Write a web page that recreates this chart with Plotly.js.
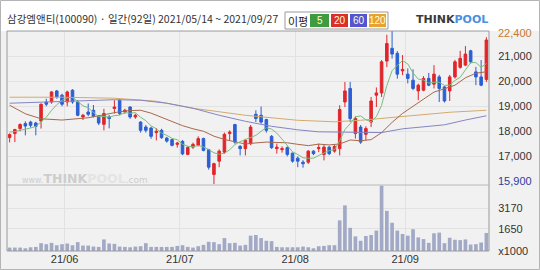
<!DOCTYPE html>
<html><head><meta charset="utf-8">
<script src="https://cdn.plot.ly/plotly-3.0.1.min.js"></script>
<style>html,body{margin:0;padding:0;background:#fff;}#chart{width:540px;height:270px;}</style>
</head><body><div id="chart"></div>
<script>
// ---- data ----
const dates = [
'2021-05-14','2021-05-17','2021-05-18','2021-05-20','2021-05-21','2021-05-24','2021-05-25','2021-05-26','2021-05-27','2021-05-28','2021-05-31',
'2021-06-01','2021-06-02','2021-06-03','2021-06-04','2021-06-07','2021-06-08','2021-06-09','2021-06-10','2021-06-11','2021-06-14','2021-06-15','2021-06-16','2021-06-17','2021-06-18','2021-06-21','2021-06-22','2021-06-23','2021-06-24','2021-06-25','2021-06-28','2021-06-29','2021-06-30',
'2021-07-01','2021-07-02','2021-07-05','2021-07-06','2021-07-07','2021-07-08','2021-07-09','2021-07-12','2021-07-13','2021-07-14','2021-07-15','2021-07-16','2021-07-19','2021-07-20','2021-07-21','2021-07-22','2021-07-23','2021-07-26','2021-07-27','2021-07-28','2021-07-29','2021-07-30',
'2021-08-02','2021-08-03','2021-08-04','2021-08-05','2021-08-06','2021-08-09','2021-08-10','2021-08-11','2021-08-12','2021-08-13','2021-08-17','2021-08-18','2021-08-19','2021-08-20','2021-08-23','2021-08-24','2021-08-25','2021-08-26','2021-08-27','2021-08-30','2021-08-31',
'2021-09-01','2021-09-02','2021-09-03','2021-09-06','2021-09-07','2021-09-08','2021-09-09','2021-09-10','2021-09-13','2021-09-14','2021-09-15','2021-09-16','2021-09-17','2021-09-23','2021-09-24','2021-09-27'];

const open  = [17750,17910,18110,18310,18370,18330,18410,19170,19170,19610,19440,19170,19640,19170,18570,18770,18840,18600,18280,18570,18910,19240,18770,18970,18570,18370,18170,18130,17950,18040,17730,17670,17480,17600,17080,17370,17440,17710,17270,16280,16810,17170,17910,18270,17400,17310,17510,18680,18640,18470,17800,17310,17270,17350,17130,16930,16770,16770,17210,17310,17080,17370,17210,17310,19170,19710,17910,18170,17880,18370,19440,19530,20800,21310,21110,20410,20280,20040,19610,19640,20110,19880,20170,19770,19610,20170,20550,20640,21210,20370,20170,20070];
const high  = [17920,18100,18320,18400,18420,18380,19110,19300,19600,19650,19500,19620,19680,19250,18700,19110,19050,18650,18900,18650,19240,19280,18900,19000,18700,18400,18250,18180,18130,18100,17780,17700,17580,17650,17400,17550,17800,17750,17300,16750,17280,17950,18040,18300,17450,17700,18250,18840,18990,18500,17850,17510,17400,17400,17150,17000,16850,17250,17250,17510,17450,17420,17450,19040,19970,19970,18600,18250,18200,19370,19750,20840,21850,22400,21200,21040,20510,20470,19900,20200,20330,20640,20250,19800,20250,20850,21210,21400,21250,20570,20840,21750];
const low   = [17560,17570,18000,17840,18150,17840,18110,19000,19100,19300,19000,19000,19100,18600,18450,18600,18550,18250,18040,18120,18710,18650,18700,18500,18500,17950,17950,17700,17640,17700,17550,17400,17350,17050,17050,17300,17400,17200,16470,15900,16570,17100,17640,17500,17040,17040,17450,18370,18300,17950,17300,17110,17150,17000,16750,16570,16550,16700,17050,17170,16840,17050,17150,17040,18970,18370,17710,17500,17640,18170,18970,19370,20560,20900,20100,20240,19910,19640,19240,19600,19800,19710,19170,19150,19210,20100,20500,20600,20700,19840,19800,19970];
const close = [17870,18070,18270,18210,18240,18200,19080,19080,19570,19370,19080,19570,19170,18640,18640,18680,18600,18330,18710,18510,18970,18710,18840,18570,18640,18040,18040,17800,18000,17750,17610,17440,17530,17100,17360,17480,17710,17240,16570,16710,17210,17880,17970,17570,17310,17640,18170,18510,18370,18040,17350,17370,17310,17080,16810,16810,16710,17210,17110,17350,17370,17110,17400,18870,19610,18510,18510,17570,18110,19210,19530,20770,21500,21080,20280,20470,20110,19710,19840,20110,19840,20280,19710,19210,20170,20770,20910,21080,20770,20170,19840,21640];
const volume = [253,253,253,202,278,303,581,505,606,430,505,556,430,657,404,404,328,303,859,556,530,328,303,278,328,354,581,303,303,303,303,303,379,430,303,253,354,455,682,657,505,960,581,606,404,455,1137,1187,960,758,733,303,278,278,278,278,328,278,202,354,379,430,430,2273,3385,1718,1086,758,1111,1187,1516,4850,2981,2097,1516,1263,1137,1617,1010,884,606,1314,1364,581,985,834,808,859,480,505,632,1339];

// moving averages
const ma5 = [17970,17990,18040,18080,18132,18198,18400,18562,18834,19060,19236,19334,19352,19166,19020,18940,18746,18578,18592,18566,18624,18646,18748,18720,18746,18560,18426,18218,18104,17926,17840,17720,17666,17486,17408,17382,17436,17378,17272,17142,17088,17122,17268,17468,17588,17674,17732,17840,18000,18146,18088,17928,17688,17430,17184,17076,16944,16924,16930,17038,17150,17230,17268,17620,18072,18300,18580,18614,18462,18382,18586,19038,19824,20418,20632,20820,20688,20330,20082,20048,19922,19956,19956,19830,19842,20028,20154,20428,20740,20740,20554,20700];
const ma20Day = [0,3,6,10,15,19,21,23,25,27,29,31,33,35,37,39,41,43,45,47,49,51,53,55,57,59,61,63,65,67,69,71,73,75,77,79,81,83,85,87,89,91];
const ma20 = [19040,18700,18500,18450,18540,18695,18782,18828,18840,18724,18565,18385,18226,18102,18003,17806,17676,17583,17496,17538,17571,17555,17543,17482,17430,17489,17459,17495,17654,17624,17669,17948,18358,18714,19009,19284,19566,19698,19839,20135,20316,20375];
const ma60Day = [0,5,10,15,20,25,30,35,40,45,50,55,59,63,67,71,75,79,83,87,91];
const ma60 = [19120,19160,19200,19240,19260,19240,19120,18920,18640,18400,18200,18060,17980,17970,17950,17950,18100,18190,18260,18450,18620];
const ma120Day = [0,10,20,28,35,45,55,62,67,72,78,84,91];
const ma120 = [19360,19360,19320,19200,18920,18640,18440,18380,18440,18540,18660,18760,18840];

const priceTicks = [17000,18000,19000,20000,21000];
const priceMax = '22,400', priceMin = '15,900';
const volTicks = [0,1650,3170], volTickText = ['x1000','1650','3170'];
const title = '삼강엠앤티(100090) · 일간(92일) 2021/05/14 ~ 2021/09/27';
const maNames = ['5','20','60','120'];

// ---- build ----
const idx = dates.map((d,i)=>i);
const monthVals=[], monthText=[];
for(let i=1;i<dates.length;i++){
  if(dates[i].slice(5,7)!==dates[i-1].slice(5,7)){monthVals.push(i-0.5);monthText.push(dates[i].slice(2,4)+'/'+dates[i].slice(5,7));}
}
const fmt = v => v.toLocaleString('en-US');

// pixel helpers for decorations (plot area: x 7..489, y 31..251)
const PX = px => (px-7)/482, PY = py => (251-py)/220;

const traces = [
 {type:'scatter',mode:'lines',x:ma120Day,y:ma120,line:{color:'#d3aa6e',width:1},hoverinfo:'skip',xaxis:'x',yaxis:'y'},
 {type:'scatter',mode:'lines',x:ma60Day,y:ma60,line:{color:'#8585c4',width:1},hoverinfo:'skip',xaxis:'x',yaxis:'y'},
 {type:'scatter',mode:'lines',x:ma20Day,y:ma20,line:{color:'#a8684a',width:1},hoverinfo:'skip',xaxis:'x',yaxis:'y'},
 {type:'scatter',mode:'lines',x:idx,y:ma5,line:{color:'#7cbc7c',width:1},hoverinfo:'skip',xaxis:'x',yaxis:'y'},
 {type:'candlestick',x:idx,open:open,high:high,low:low,close:close,
  increasing:{line:{color:'#e0262b',width:1},fillcolor:'#e0262b'},
  decreasing:{line:{color:'#2b5fd3',width:1},fillcolor:'#2b5fd3'},
  whiskerwidth:0,hoverinfo:'skip',xaxis:'x',yaxis:'y'},
 {type:'bar',x:idx,y:volume,marker:{color:'#a1a9c6',line:{width:0}},hoverinfo:'skip',xaxis:'x',yaxis:'y2'}
];

const boxes = [
 {x0:310,x1:329,c:'#3f9b3f'},{x0:331,x1:348,c:'#d9302c'},{x0:350,x1:367,c:'#5454d2'},{x0:369,x1:386,c:'#e9a232'}
];
const shapes = [
 {type:'rect',xref:'paper',yref:'paper',x0:PX(0),x1:PX(540),y0:PY(270),y1:PY(31),fillcolor:'#f1f1f1',line:{width:0},layer:'below'},
 {type:'rect',xref:'paper',yref:'paper',x0:0,x1:1,y0:0,y1:1,fillcolor:'rgba(0,0,0,0)',line:{color:'#9a9a9a',width:1}},
 {type:'line',xref:'paper',yref:'paper',x0:0,x1:1,y0:0.3,y1:0.3,line:{color:'#b8b8b8',width:1}},
 {type:'rect',xref:'paper',yref:'paper',x0:PX(0.5),x1:PX(539.5),y0:PY(269.5),y1:PY(0.5),fillcolor:'rgba(0,0,0,0)',line:{color:'#b4b4b4',width:1}},
 {type:'rect',xref:'paper',yref:'paper',x0:PX(285),x1:PX(388),y0:PY(29),y1:PY(12),fillcolor:'#ffffff',line:{color:'#9a9a9a',width:1}}
];
boxes.forEach(b=>shapes.push({type:'rect',xref:'paper',yref:'paper',x0:PX(b.x0),x1:PX(b.x1),y0:PY(27),y1:PY(14),fillcolor:b.c,line:{width:0}}));

const KR = 'Noto Sans CJK KR, sans-serif';
const annotations = [
 {xref:'paper',yref:'paper',x:PX(5),y:PY(18),xanchor:'left',yanchor:'middle',showarrow:false,text:title,font:{family:KR,size:10.5,color:'#333'}},
 {xref:'paper',yref:'paper',x:PX(298),y:PY(20.5),xanchor:'center',yanchor:'middle',showarrow:false,text:'이평',font:{family:KR,size:11,color:'#222'}},
 {xref:'paper',yref:'paper',x:PX(452),y:PY(20),xanchor:'center',yanchor:'middle',showarrow:false,
  text:'<b>THINK</b><b><span style="color:#4a8fe0">POOL</span></b>',font:{family:'DejaVu Sans',size:11,color:'#3a3a3a'}},
 {xref:'paper',yref:'paper',x:PX(20),y:PY(178),xanchor:'left',yanchor:'middle',showarrow:false,
  text:'<span style="font-size:8px">www.</span><b>THINK</b><b><span style="color:#e4e4e4">POOL</span></b><span style="font-size:9px">.com</span>',
  font:{family:'DejaVu Sans',size:12.5,color:'#cdcdcd'}},
 {xref:'paper',yref:'paper',x:PX(496),y:PY(33),xanchor:'left',yanchor:'middle',showarrow:false,text:priceMax,font:{family:'Liberation Sans',size:11,color:'#c27b2e'}},
 {xref:'paper',yref:'paper',x:PX(496),y:PY(181),xanchor:'left',yanchor:'middle',showarrow:false,text:priceMin,font:{family:'Liberation Sans',size:11,color:'#2f3c9e'}}
];
boxes.forEach((b,k)=>annotations.push({xref:'paper',yref:'paper',x:PX((b.x0+b.x1)/2),y:PY(20.5),xanchor:'center',yanchor:'middle',showarrow:false,text:maNames[k],font:{family:'Liberation Sans',size:10,color:'#ffffd0'}}));

const axisFont = {family:'Liberation Sans',size:11,color:'#333'};
const layout = {
 width:540,height:270,margin:{l:7,r:51,t:31,b:19,pad:0},
 paper_bgcolor:'#ffffff',plot_bgcolor:'#ffffff',showlegend:false,bargap:0.3,
 xaxis:{range:[-0.5,91.5],tickvals:monthVals,ticktext:monthText,showgrid:true,gridcolor:'#e2e2e2',gridwidth:1,
   zeroline:false,showline:false,ticks:'',tickfont:axisFont,rangeslider:{visible:false},anchor:'y2',fixedrange:true},
 yaxis:{domain:[0.3,1],range:[15860,22000],side:'right',tickvals:priceTicks,ticktext:priceTicks.map(fmt),
   showgrid:true,gridcolor:'#e2e2e2',zeroline:false,showline:false,ticks:'outside',ticklen:6,tickcolor:'rgba(0,0,0,0)',tickfont:axisFont,fixedrange:true},
 yaxis2:{domain:[0,0.3],range:[0,4900],side:'right',tickvals:volTicks,ticktext:volTickText,
   showgrid:true,gridcolor:'#e2e2e2',zeroline:false,showline:false,ticks:'outside',ticklen:6,tickcolor:'rgba(0,0,0,0)',tickfont:axisFont,fixedrange:true},
 shapes:shapes,annotations:annotations
};
Plotly.newPlot('chart',traces,layout,{staticPlot:true,displayModeBar:false});
</script></body></html>
